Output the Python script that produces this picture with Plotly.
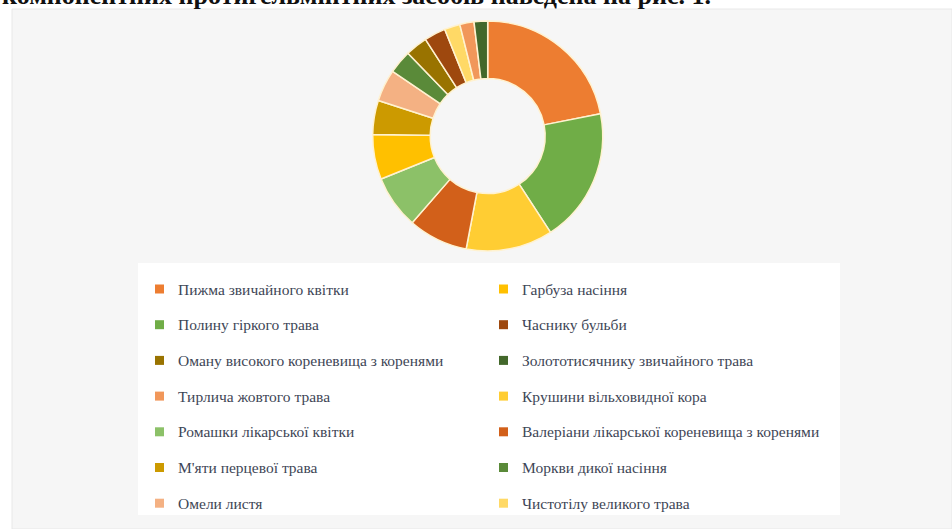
import plotly.graph_objects as go

# Components of anthelmintic herbal preparations (share, %)
names = [
    "Пижма звичайного квітки",
    "Гарбуза насіння",
    "Полину гіркого трава",
    "Часнику бульби",
    "Оману високого кореневища з коренями",
    "Золототисячнику звичайного трава",
    "Тирлича жовтого трава",
    "Крушини вільховидної кора",
    "Ромашки лікарської квітки",
    "Валеріани лікарської кореневища з коренями",
    "М'яти перцевої трава",
    "Моркви дикої насіння",
    "Омели листя",
    "Чистотілу великого трава",
]
shares = [21.9, 6.3, 18.9, 3.0, 3.1, 1.9, 2.0, 12.2, 7.5, 8.4, 4.8, 3.3, 4.5, 2.2]
colors = [
    "#ED7D31", "#FFC000", "#70AD47", "#9E480E", "#997300", "#43682B", "#F1975A",
    "#FFCD33", "#8CC168", "#D2601A", "#CC9A00", "#5A8A39", "#F4B183", "#FFD966",
]
caption = "компонентних протигельмінтних засобів наведена на рис. 1."

W, H = 952, 529


def px(x):
    return x / W


def py(y):
    return 1 - y / H


fig = go.Figure()
fig.add_trace(go.Pie(
    labels=names,
    values=shares,
    marker=dict(colors=colors, line=dict(color="#FFF2D0", width=1.5)),
    hole=0.5,
    sort=True,
    direction="clockwise",
    rotation=0,
    textinfo="none",
    hoverinfo="label+percent",
    showlegend=False,
    domain=dict(x=[px(372.7), px(602.7)], y=[py(251), py(21)]),
))

shapes = [
    # chart panel
    dict(type="rect", xref="paper", yref="paper", x0=px(12), x1=1.0, y0=0, y1=py(9),
         fillcolor="#F6F6F6", line=dict(color="#E8E8E8", width=1), layer="below"),
    # legend panel
    dict(type="rect", xref="paper", yref="paper", x0=px(138), x1=px(840), y0=py(515), y1=py(263),
         fillcolor="#FFFFFF", line=dict(width=0), layer="below"),
]
annotations = [
    dict(text="<b>" + caption + "</b>", xref="paper", yref="paper", x=px(0), y=py(-4),
         xanchor="left", yanchor="middle", showarrow=False,
         font=dict(family="Liberation Serif", size=26, color="#111111")),
]

# two-column legend, filled row by row
col_x = [155, 499]
row_y0, row_step, sw = 289, 35.7, 9
for i, (name, col) in enumerate(zip(names, colors)):
    r, c = divmod(i, 2)
    cy = row_y0 + r * row_step
    x0 = col_x[c]
    shapes.append(dict(type="rect", xref="paper", yref="paper",
                       x0=px(x0), x1=px(x0 + sw), y0=py(cy + sw / 2), y1=py(cy - sw / 2),
                       fillcolor=col, line=dict(width=0)))
    annotations.append(dict(text=name, xref="paper", yref="paper", x=px(x0 + 21), y=py(cy),
                            xanchor="left", yanchor="middle", showarrow=False,
                            font=dict(family="Liberation Serif", size=15.5, color="#3E4656")))

fig.update_layout(
    width=W, height=H,
    margin=dict(l=0, r=0, t=0, b=0),
    paper_bgcolor="#FFFFFF",
    plot_bgcolor="#FFFFFF",
    shapes=shapes,
    annotations=annotations,
)

fig.write_html("out.html")
